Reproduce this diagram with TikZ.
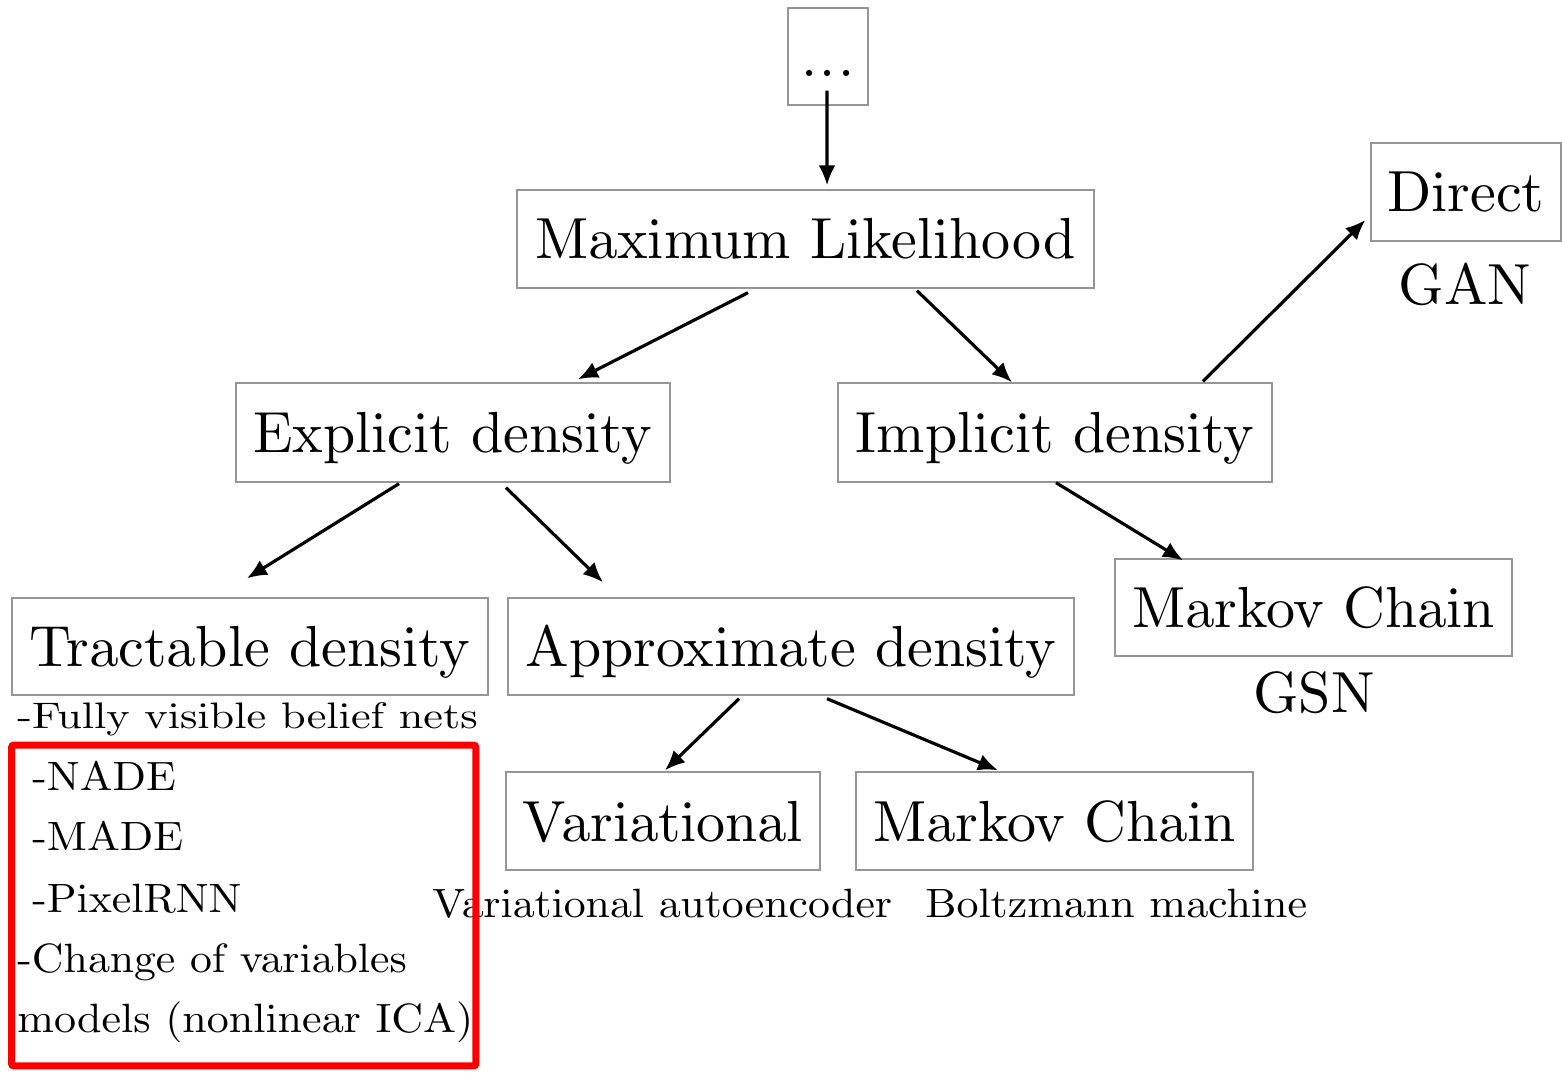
\documentclass[tikz,border=0pt]{standalone}
\usetikzlibrary{arrows.meta,calc}
\font\bigf=cmr10 at 33pt
\font\smf=cmr10 at 23.3pt
\font\fullyf=cmr10 at 21pt
\begin{document}
\begin{tikzpicture}[x=0.02cm,y=-0.02cm,
  box/.style={draw={rgb,255:red,150;green,150;blue,150}, line width=0.8pt, inner sep=0pt,
    font=\bigf, text height=0.8cm, text depth=0pt},
  arr/.style={line width=1.8pt, -{Latex[length=0.4cm,width=0.34cm]}},
  lbl/.style={inner sep=0pt, anchor=base west, font=\smf},
  sub/.style={inner sep=0pt, anchor=base, font=\bigf}]
\useasboundingbox (0,0) rectangle (1562,1074);
% boxes
\node[box, minimum width=1.6cm, minimum height=1.94cm] (dots) at (828,56.5) {.\kern0.05cm.\kern0.05cm.};
\node[box, minimum width=11.54cm, minimum height=1.96cm] (ml) at (805.5,239) {Maximum Likelihood};
\node[box, minimum width=8.68cm, minimum height=1.98cm] (expl) at (453,432.5) {Explicit density};
\node[box, minimum width=8.68cm, minimum height=1.98cm] (impl) at (1055,432.5) {Implicit density};
\node[box, minimum width=3.8cm, minimum height=1.96cm] (direct) at (1466,192) {Direct};
\node[box, minimum width=9.52cm, minimum height=1.94cm] (tract) at (250,646.5) {Tractable density};
\node[box, minimum width=11.32cm, minimum height=1.94cm] (approx) at (791,646.5) {Approximate density};
\node[box, minimum width=7.94cm, minimum height=1.94cm] (mk1) at (1313.5,607.5) {Markov Chain};
\node[box, minimum width=6.28cm, minimum height=1.96cm] (var) at (663,821) {Variational};
\node[box, minimum width=7.94cm, minimum height=1.96cm] (mk2) at (1054.5,821) {Markov Chain};
% labels under boxes
\node[sub] (gan) at (1465,305) {GAN};
\node[sub] (gsn) at (1314,712) {GSN};
\node[lbl] (vae) at (432,917) {\scalebox{1.07}[1]{Variational autoencoder}};
\node[lbl] (bm) at (925,917) {\scalebox{1.075}[1]{Boltzmann machine}};
\node[lbl, font=\fullyf] (fvbn) at (17,728) {\scalebox{1.2}[1]{-Fully visible belief nets}};
\node[lbl] (nade) at (32,790) {\scalebox{1.07}[1]{-NADE}};
\node[lbl] (made) at (32,850) {\scalebox{1.07}[1]{-MADE}};
\node[lbl] (pix) at (32,912) {\scalebox{1.07}[1]{-PixelRNN}};
\node[lbl] (cov) at (17,972) {\scalebox{1.07}[1]{-Change of variables}};
\node[lbl] (nica) at (17,1032) {\scalebox{1.075}[1]{models (nonlinear ICA)}};
% highlight
\node[draw={rgb,255:red,250;green,0;blue,0}, line width=0.14cm, rounded corners=0.05cm, inner sep=0pt,
  minimum width=9.29cm, minimum height=6.42cm] (hl) at (243.75,905.5) {};
% arrows
\draw[arr] ($(dots.south)+(-1,-15)$) -- ($(ml.north)+(21.5,-4)$);
\draw[arr] ($(ml.south)+(-57.5,4)$) -- ($(expl.north)+(125,-3)$);
\draw[arr] ($(ml.south)+(111.5,2)$) -- ($(impl.north)+(-43,0)$);
\draw[arr] ($(impl.north)+(148,-1)$) -- ($(direct.west)+(-5,28)$);
\draw[arr] ($(expl.south)+(-54,1)$) -- ($(tract.north)+(-3,-19)$);
\draw[arr] ($(expl.south)+(53,5)$) -- ($(approx.north)+(-188,-15)$);
\draw[arr] ($(impl.south)+(1,0)$) -- ($(mk1.north)+(-130.5,2)$);
\draw[arr] ($(approx.south)+(-52,3)$) -- ($(var.north)+(2,-1)$);
\draw[arr] ($(approx.south)+(36,3)$) -- ($(mk2.north)+(-56.5,-1)$);
\end{tikzpicture}
\end{document}
